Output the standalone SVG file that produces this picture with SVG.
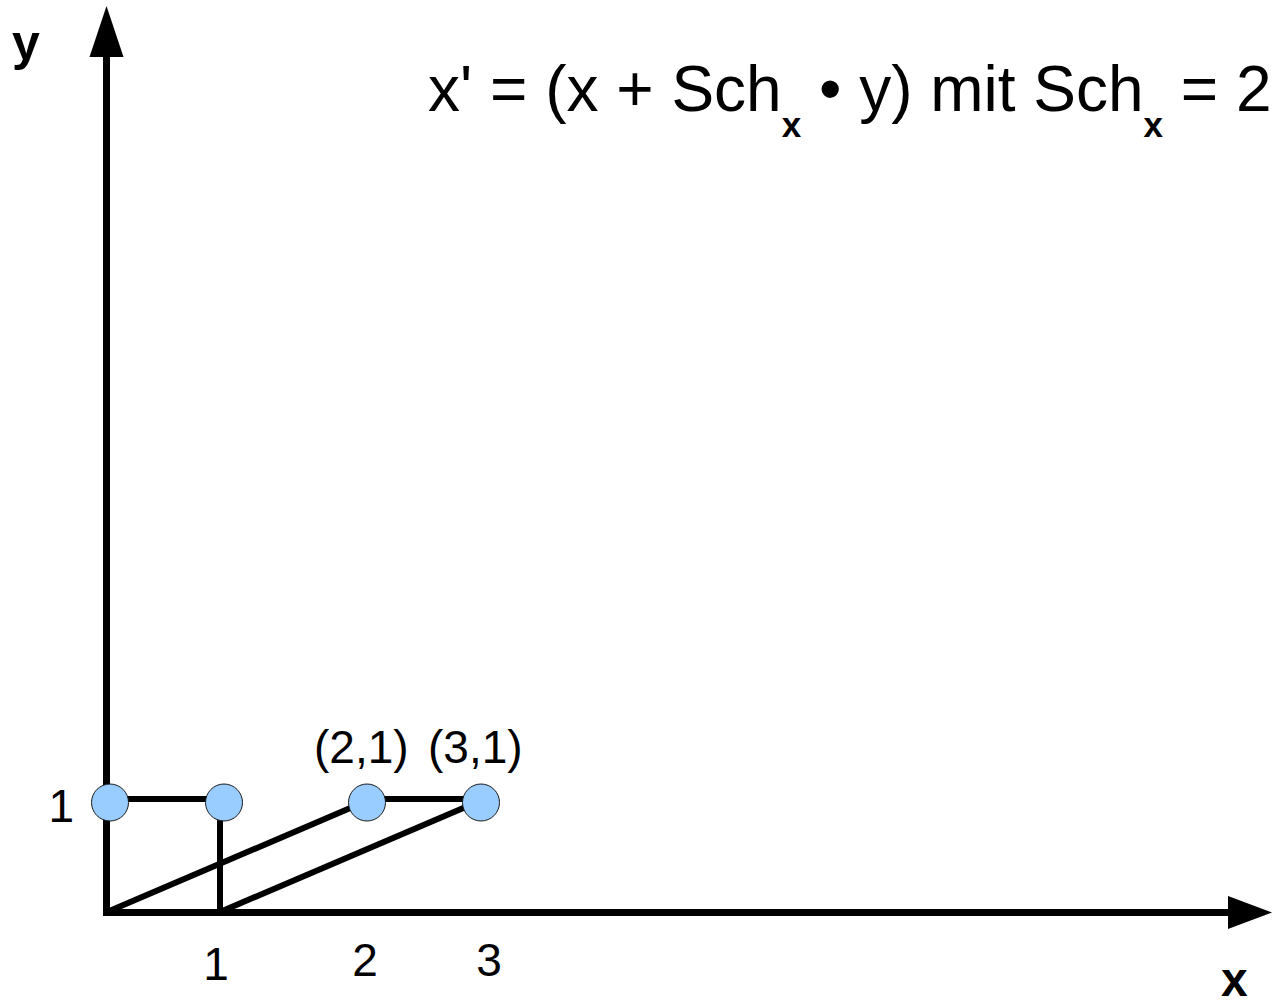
<svg xmlns="http://www.w3.org/2000/svg" width="1272" height="1007" viewBox="0 0 1272 1007">
  <style>
    .axis { stroke: #000; stroke-width: 7; fill: none; }
    .edge { stroke: #000; stroke-width: 6; fill: none; }
    .pt { fill: #99ccff; stroke: #1a1a1a; stroke-width: 1; }
    .lbl { font-family: "Liberation Sans", Arial, sans-serif; fill: #000; }
    .bold { font-weight: bold; }
  </style>
  <rect width="1272" height="1007" fill="#fff"/>
  <g id="connectors">
    <line class="axis" x1="106.5" y1="912" x2="106.5" y2="55"/>
    <polygon points="106.5,6 89.5,57 123.5,57" fill="#000"/>
    <line class="axis" x1="103" y1="912.5" x2="1230" y2="912.5"/>
    <polygon points="1272,912.5 1228,896 1228,929" fill="#000"/>
    <line class="edge" x1="110" y1="799" x2="224" y2="799"/>
    <line class="edge" x1="367" y1="799" x2="481" y2="799"/>
    <line class="edge" x1="220" y1="802" x2="220" y2="912"/>
    <line class="edge" x1="107" y1="912" x2="362" y2="803"/>
    <line class="edge" x1="220" y1="912" x2="475" y2="803"/>
  </g>
  <g id="p01"><circle class="pt" cx="110" cy="802.5" r="18.5"/></g>
  <g id="p11"><circle class="pt" cx="224" cy="802.5" r="18.5"/></g>
  <g id="p21"><circle class="pt" cx="367" cy="802.5" r="18.5"/></g>
  <g id="p31"><circle class="pt" cx="481" cy="802.5" r="18.5"/></g>
  <g id="labels">
    <text class="lbl bold" x="12" y="60" font-size="50">y</text>
    <text class="lbl bold" x="1221" y="996" font-size="48">x</text>
    <text class="lbl" x="428" y="111" font-size="64">x' = (x + Sch<tspan class="bold" font-size="35" dy="26">x</tspan><tspan dy="-26"> • y) mit Sch</tspan><tspan class="bold" font-size="35" dy="26">x</tspan><tspan dy="-26"> = 2</tspan></text>
    <text class="lbl" x="314" y="763" font-size="46">(2,1)</text>
    <text class="lbl" x="428" y="763" font-size="46">(3,1)</text>
    <text class="lbl" x="74" y="822" font-size="46" text-anchor="end">1</text>
    <text class="lbl" x="216" y="980" font-size="46" text-anchor="middle">1</text>
    <text class="lbl" x="365" y="976" font-size="46" text-anchor="middle">2</text>
    <text class="lbl" x="489" y="976" font-size="46" text-anchor="middle">3</text>
  </g>
</svg>
